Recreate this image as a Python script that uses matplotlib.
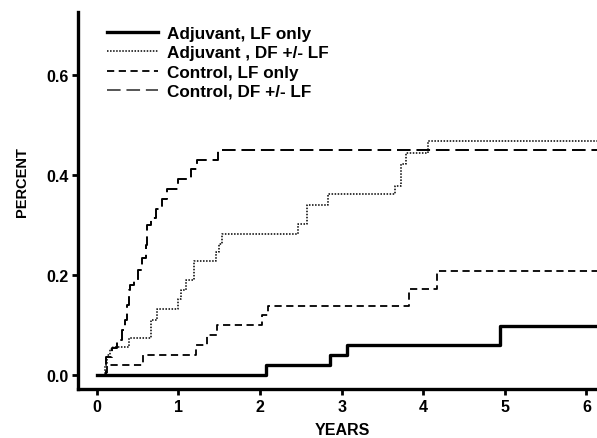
import matplotlib
matplotlib.use("Agg")
import matplotlib.pyplot as plt

plt.rcParams['font.family'] = ['Liberation Sans', 'DejaVu Sans']
plt.rcParams['font.weight'] = 'bold'

# step curves: (time in years, cumulative proportion)
adj_lf_t = [0, 2.07, 2.86, 3.07, 4.94, 6.3]
adj_lf_v = [0, 0.02, 0.04, 0.06, 0.098, 0.098]

adj_df_t = [0, 0.10, 0.12, 0.16, 0.20, 0.39, 0.66, 0.74, 0.99, 1.03, 1.09, 1.19,
            1.46, 1.50, 1.54, 2.46, 2.58, 2.83, 3.65, 3.73, 3.79, 4.06, 6.3]
adj_df_v = [0, 0.02, 0.04, 0.053, 0.057, 0.075, 0.11, 0.133, 0.153, 0.17, 0.19, 0.228,
            0.246, 0.262, 0.283, 0.303, 0.34, 0.362, 0.378, 0.423, 0.444, 0.468, 0.468]

ctl_lf_t = [0, 0.12, 0.57, 1.22, 1.35, 1.47, 2.02, 2.10, 3.83, 4.17, 6.3]
ctl_lf_v = [0, 0.02, 0.04, 0.06, 0.08, 0.10, 0.12, 0.138, 0.173, 0.208, 0.208]

ctl_df_t = [0, 0.11, 0.19, 0.25, 0.31, 0.35, 0.37, 0.39, 0.41, 0.45, 0.50, 0.55,
            0.60, 0.62, 0.66, 0.72, 0.80, 0.86, 0.99, 1.15, 1.23, 1.48, 6.3]
ctl_df_v = [0, 0.036, 0.054, 0.07, 0.09, 0.11, 0.14, 0.17, 0.18, 0.19, 0.21, 0.235,
            0.26, 0.30, 0.315, 0.333, 0.353, 0.373, 0.393, 0.412, 0.431, 0.451, 0.451]

labels = ["Adjuvant, LF only", "Adjuvant , DF +/- LF",
          "Control, LF only", "Control, DF +/- LF"]

fig = plt.figure(figsize=(5.97, 4.39), dpi=100)
ax = fig.add_axes([0.1307, 0.1116, 0.8693, 0.8594])

ax.step(adj_lf_t, adj_lf_v, where='post', color='black', lw=2.4, label=labels[0])
ax.step(adj_df_t, adj_df_v, where='post', color='black', lw=1.1,
        linestyle=(0, (1, 1)), label=labels[1])
ax.step(ctl_lf_t, ctl_lf_v, where='post', color='black', lw=1.3,
        linestyle=(0, (4, 2.5)), label=labels[2])
ax.step(ctl_df_t, ctl_df_v, where='post', color='black', lw=1.4,
        linestyle=(0, (7, 3)), label=labels[3])

ax.set_xlim(-0.23, 6.13)
ax.set_ylim(-0.027, 0.727)
ax.set_xticks([0, 1, 2, 3, 4, 5, 6])
ax.set_yticks([0.0, 0.2, 0.4, 0.6])
ax.set_yticklabels(["0.0", "0.2", "0.4", "0.6"])

for s in ['top', 'right']:
    ax.spines[s].set_visible(False)
for s in ['left', 'bottom']:
    ax.spines[s].set_linewidth(2.4)
ax.tick_params(direction='out', length=4, width=2, labelsize=11.5, pad=3)
for lab in ax.get_xticklabels() + ax.get_yticklabels():
    lab.set_fontweight('bold')

ax.set_xlabel("YEARS", fontsize=11.5, fontweight='bold')
ax.xaxis.set_label_coords(0.509, -0.088)
ax.set_ylabel("PERCENT", fontsize=10.5, fontweight='bold')
ax.yaxis.set_label_coords(-0.094, 0.55)

leg = ax.legend(loc='upper left', bbox_to_anchor=(0.056, 0.962), frameon=False,
                fontsize=12.3, handlelength=3.0, handletextpad=0.5,
                labelspacing=0.25, borderaxespad=0, borderpad=0)
leg.get_lines()[3].set_color('#555555')

fig.savefig("out.png", dpi=100)
